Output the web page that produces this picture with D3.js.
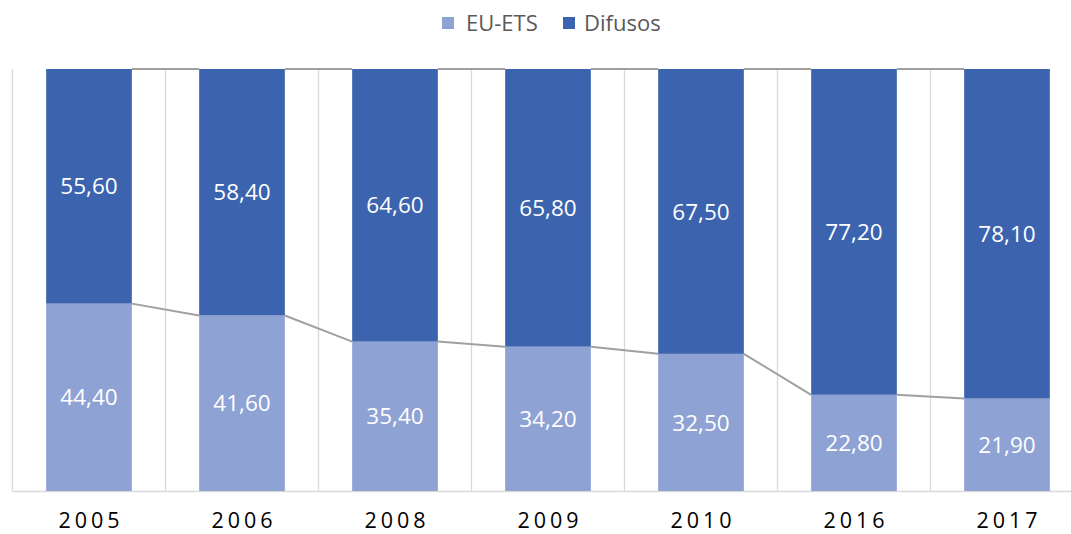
<!DOCTYPE html>
<html><head><meta charset="utf-8">
<script src="https://cdn.jsdelivr.net/npm/d3@7"></script>
<style>body{margin:0;background:#fff}svg{display:block}</style>
</head><body>
<svg id="c" width="1071" height="534"></svg>
<script>
const categories = ["2005","2006","2008","2009","2010","2016","2017"];
const euets = [44.40,41.60,35.40,34.20,32.50,22.80,21.90];
const difusos = [55.60,58.40,64.60,65.80,67.50,77.20,78.10];
const seriesNames = ["EU-ETS","Difusos"];
const colors = ["#8fa2d4","#3c64ae"];

(function(){
const svg = d3.select("#c");
const pLeft = 12.5, band = 153, pTop = 69, pBottom = 491;
const x = d3.scaleBand().domain(categories).range([pLeft, pLeft + band*categories.length]).paddingInner(0.44).paddingOuter(0.22);
const y = d3.scaleLinear().domain([0,100]).range([pBottom, pTop]);
const fmt = v => v.toFixed(2).replace(".", ",");

const bounds = d3.range(categories.length + 1).map(i => pLeft + i*band);
svg.append("g").selectAll("line").data(bounds).join("line")
  .attr("x1", d => d).attr("x2", d => d).attr("y1", pTop).attr("y2", pBottom)
  .attr("stroke", "#d9d9d9").attr("stroke-width", 1.3);

svg.append("line").attr("x1", pLeft).attr("x2", 1071).attr("y1", pBottom+0.5).attr("y2", pBottom+0.5)
  .attr("stroke", "#d9d9d9").attr("stroke-width", 1.3);

const data = categories.map((c,i) => ({cat:c, e:euets[i], d:difusos[i]}));
const stack = d3.stack().keys(["e","d"])(data);

const g = svg.append("g");
stack.forEach((s, si) => {
  g.append("g").selectAll("rect").data(s).join("rect")
    .attr("x", d => x(d.data.cat)).attr("width", x.bandwidth())
    .attr("y", d => y(d[1])).attr("height", d => y(d[0]) - y(d[1]))
    .attr("fill", colors[si]);
});

stack.forEach(s => {
  const segs = d3.range(s.length - 1).map(i => [s[i], s[i+1]]);
  g.append("g").selectAll("line").data(segs).join("line")
    .attr("x1", d => x(d[0].data.cat) + x.bandwidth()).attr("y1", d => y(d[0][1]))
    .attr("x2", d => x(d[1].data.cat)).attr("y2", d => y(d[1][1]))
    .attr("stroke", "#a0a0a0").attr("stroke-width", 2);
});

stack.forEach((s, si) => {
  g.append("g").selectAll("text").data(s).join("text")
    .attr("x", d => x(d.data.cat) + x.bandwidth()/2)
    .attr("y", d => (y(d[0]) + y(d[1]))/2)
    .attr("dy", "0.36em")
    .attr("text-anchor", "middle")
    .attr("font-family", "Open Sans, sans-serif").attr("font-size", 22.5)
    .attr("fill", "#ffffff")
    .text(d => fmt(d[1] - d[0]));
});

svg.append("g").selectAll("text").data(categories).join("text")
  .attr("x", d => x(d) + x.bandwidth()/2 + 2)
  .attr("y", 528)
  .attr("text-anchor", "middle")
  .attr("font-family", "Open Sans, sans-serif").attr("font-size", 21.5)
  .attr("font-weight", 500)
  .attr("letter-spacing", "4px")
  .attr("fill", "#000000")
  .text(d => d);

const legX = [442, 563];
const txtX = [466, 584];
const lg = svg.append("g");
seriesNames.forEach((n,i) => {
  lg.append("rect").attr("x", legX[i]).attr("y", 17).attr("width", 12).attr("height", 12).attr("fill", colors[i]);
  lg.append("text").attr("x", txtX[i]).attr("y", 30.5)
    .attr("font-family", "Open Sans, sans-serif").attr("font-size", 22)
    .attr("fill", "#595959").text(n);
});
})();
</script>
</body></html>
